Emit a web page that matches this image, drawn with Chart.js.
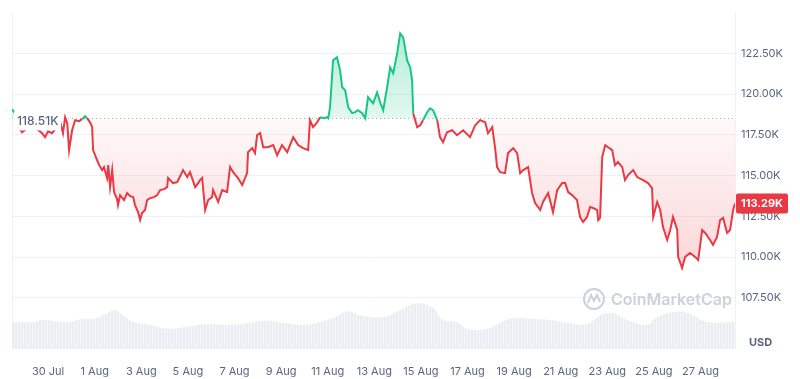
<!DOCTYPE html>
<html>
<head>
<meta charset="utf-8">
<title>BTC price chart</title>
<script src="https://cdn.jsdelivr.net/npm/chart.js@4.4.1/dist/chart.umd.min.js"></script>
<style>
  body { margin: 0; background: #fff; }
  #wrap { width: 800px; height: 379px; }
</style>
</head>
<body>
<div id="wrap"><canvas id="priceChart"></canvas></div>
<script>
// days since 30 Jul 00:00 and BTC price (USD)
const days = [-1.55,-1.42,-1.29,-1.12,-0.90,-0.69,-0.47,-0.26,-0.13,0.00,0.17,0.34,0.52,0.64,0.73,0.82,0.90,1.03,1.16,1.33,
  1.46,1.59,1.67,1.80,1.89,1.93,2.10,2.19,2.32,2.40,2.53,2.58,2.66,2.75,2.83,2.96,3.00,3.09,3.26,3.39,
  3.52,3.65,3.73,3.86,3.95,4.03,4.16,4.25,4.38,4.55,4.68,4.81,4.98,5.11,5.15,5.36,5.54,5.67,5.79,5.97,
  6.09,6.31,6.44,6.52,6.61,6.74,6.87,7.04,7.08,7.30,7.47,7.68,7.81,7.94,8.15,8.33,8.54,8.58,8.76,8.88,
  8.97,9.10,9.23,9.44,9.66,9.83,10.04,10.26,10.52,10.73,10.94,11.16,11.24,11.37,11.55,11.67,11.85,11.97,12.02,12.10,
  12.23,12.40,12.53,12.62,12.75,12.88,13.05,13.18,13.30,13.48,13.61,13.73,13.95,14.12,14.25,14.38,14.55,14.68,14.81,14.98,
  15.11,15.24,15.41,15.54,15.62,15.67,15.84,15.97,16.09,16.27,16.39,16.52,16.70,16.82,16.95,17.12,17.34,17.55,17.81,18.11,
  18.33,18.54,18.76,18.88,19.06,19.18,19.27,19.40,19.61,19.74,19.96,20.13,20.26,20.39,20.60,20.77,20.90,21.12,21.24,21.46,
  21.67,21.85,22.06,22.19,22.32,22.49,22.70,22.75,22.83,22.96,23.13,23.26,23.39,23.56,23.61,23.69,23.78,23.91,24.03,24.21,
  24.33,24.46,24.64,24.76,24.89,25.11,25.28,25.54,25.75,25.92,25.97,26.14,26.27,26.39,26.57,26.70,26.82,27.00,27.04,27.21,
  27.34,27.55,27.77,27.90,28.07,28.20,28.41,28.54,28.71,28.84,28.97,29.14,29.27,29.40,29.48];
const prices = [119070,118830,118030,117660,117910,118030,117850,117600,117360,117720,117600,117910,118270,117600,118580,118210,116560,117780,118400,118340,
  118460,118640,118520,118270,117970,116560,115950,115640,115340,115520,114850,115640,114290,115340,113990,113560,113190,113800,113500,113930,
  113740,113680,113190,112760,112270,112700,112890,113500,113620,113680,113800,114110,114170,114290,114850,114540,114600,114970,115340,114910,
  115210,114290,114540,114720,114850,112890,113500,113680,114110,113380,114110,113990,115520,115210,114850,114420,115150,116440,116680,116380,
  117480,117600,116740,116740,116870,116250,116870,116440,117360,116870,116680,116560,118400,117970,118270,118580,118520,118580,118520,119190,
  122070,122260,121460,120420,120230,119190,118830,118890,119010,118830,118520,119810,119440,120110,119500,119010,120420,121640,121280,122500,
  123720,123480,122070,121640,120850,118830,117970,118090,118400,118890,119130,119010,118400,117360,117050,117660,117780,117480,117780,117360,
  118090,118400,118270,117600,117970,116740,115520,115210,115150,116380,116680,116380,115150,115340,115520,113930,113310,112890,113380,113930,
  112760,114110,114540,114540,113990,113800,113500,113070,112460,112150,112460,113070,113010,112890,112270,112400,116130,116870,116740,116560,
  115640,115830,115520,114720,115030,115340,114910,114720,114540,114230,112460,113380,112890,111840,111050,111660,112460,111660,110010,109330,
  110010,110250,110010,109820,111660,111480,111050,110740,111230,112270,112400,111480,111660,112890,113290];

// 24h volume (billion USD) for the grey band at the bottom
const volDays = [-1.55,-0.64,-0.21,0.82,1.50,1.93,2.53,2.88,3.22,3.65,4.38,5.11,5.97,6.82,7.94,9.40,10.09,10.82,11.55,12.23,
  12.88,13.39,14.38,15.11,15.84,16.52,16.95,17.55,17.98,18.84,19.40,19.96,20.82,21.55,22.27,23.13,23.69,24.25,24.85,25.71,
  26.14,26.82,27.25,27.68,28.28,29.40,29.48];
const volumes = [40,40,43,40,44.5,44.5,53,58,50,40,36,30,33,37,36,42,39,36,39,46,
  56,50,47.5,58,68,61,43,40,30,30,39,46,44.5,43,39,37,50,53,43,36,
  47.5,55,55,50,40,40,40];

const tickDays = [0,2,4,6,8,10,12,14,16,18,20,22,24,26,28];
const tickLabels = ["30 Jul","1 Aug","3 Aug","5 Aug","7 Aug","9 Aug","11 Aug","13 Aug","15 Aug","17 Aug","19 Aug","21 Aug","23 Aug","25 Aug","27 Aug"];
const yTicks = [107500,110000,112500,115000,117500,120000,122500];
const openPrice = 118510;
const lastPrice = 113290;

const GREEN = "#16c784";
const RED = "#ea3943";
const GREY = "#58667e";

function fmtK(v) {
  return (v / 1000).toFixed(2) + "K";
}

const overlay = {
  id: "overlay",
  beforeDatasetsDraw(chart) {
    const { ctx, chartArea: a, scales: { y } } = chart;
    ctx.save();
    // left edge
    ctx.strokeStyle = "#eff2f5";
    ctx.lineWidth = 1;
    ctx.beginPath();
    ctx.moveTo(a.left + 0.5, a.top);
    ctx.lineTo(a.left + 0.5, a.bottom);
    ctx.stroke();
    // dotted open-price line
    const yb = Math.round(y.getPixelForValue(openPrice)) + 0.5;
    ctx.strokeStyle = "#a6b0c3";
    ctx.setLineDash([1, 3]);
    ctx.beginPath();
    ctx.moveTo(a.left, yb);
    ctx.lineTo(a.right, yb);
    ctx.stroke();
    ctx.restore();
  },
  afterDraw(chart) {
    const { ctx, chartArea: a, scales: { y } } = chart;
    ctx.save();
    // open price label
    const yb = y.getPixelForValue(openPrice);
    ctx.fillStyle = "#fff";
    ctx.fillRect(a.left + 2, yb - 7, 47, 19);
    ctx.font = "500 12px Inter";
    ctx.fillStyle = GREY;
    ctx.textBaseline = "middle";
    ctx.textAlign = "left";
    ctx.fillText(fmtK(openPrice), a.left + 5, yb + 3);

    // last price tag
    const yl = y.getPixelForValue(lastPrice);
    ctx.fillStyle = RED;
    ctx.beginPath();
    ctx.roundRect(a.right + 1, yl - 10, 52, 20, 2);
    ctx.fill();
    ctx.fillStyle = "#fff";
    ctx.font = "bold 11px Inter";
    ctx.fillText(fmtK(lastPrice), a.right + 6, yl + 0.5);

    // currency
    ctx.fillStyle = GREY;
    ctx.font = "bold 11px Inter";
    ctx.fillText("USD", a.right + 14, a.bottom - 6);

    // watermark
    const cx = a.right - 141, cy = a.bottom - 50;
    ctx.strokeStyle = "#cdd2da";
    ctx.lineWidth = 2;
    ctx.beginPath();
    ctx.arc(cx, cy, 10, 0, Math.PI * 2);
    ctx.stroke();
    ctx.beginPath();
    ctx.moveTo(cx - 6, cy + 4);
    ctx.lineTo(cx - 3, cy - 4);
    ctx.lineTo(cx, cy + 2);
    ctx.lineTo(cx + 3, cy - 4);
    ctx.lineTo(cx + 6, cy + 3);
    ctx.stroke();
    ctx.fillStyle = "#cdd2da";
    ctx.font = "600 16px Inter";
    ctx.fillText("CoinMarketCap", cx + 17, cy + 1);
    ctx.restore();
  }
};

const ctx = document.getElementById("priceChart");
const chart = new Chart(ctx, {
  type: "line",
  data: {
    datasets: [
      {
        label: "Price",
        data: days.map((d, i) => ({ x: d, y: prices[i] })),
        yAxisID: "y",
        borderColor: RED,
        borderWidth: 2,
        pointRadius: 0,
        tension: 0,
        order: 1,
        fill: { target: { value: openPrice }, above: "rgba(22,199,132,0.2)", below: "rgba(234,57,67,0.1)" },
        segment: {
          borderColor: c => ((c.p0.parsed.y + c.p1.parsed.y) / 2 >= openPrice ? GREEN : RED)
        }
      },
      {
        label: "Volume",
        data: volDays.map((d, i) => ({ x: d, y: volumes[i] })),
        yAxisID: "vol",
        borderWidth: 0,
        backgroundColor: "#eef1f5",
        pointRadius: 0,
        tension: 0.4,
        fill: "origin",
        order: 2
      }
    ]
  },
  options: {
    responsive: true,
    maintainAspectRatio: false,
    animation: false,
    layout: { padding: { left: 12, top: 12 } },
    plugins: { legend: { display: false }, tooltip: { enabled: false } },
    scales: {
      x: {
        type: "linear",
        min: -1.55,
        max: 29.48,
        afterBuildTicks: axis => { axis.ticks = tickDays.map(v => ({ value: v })); },
        afterFit: axis => { axis.height = 30; },
        grid: { display: false },
        border: { display: false },
        ticks: {
          autoSkip: false,
          maxRotation: 0,
          padding: 8,
          color: GREY,
          font: { family: "Inter", size: 11 },
          callback: v => tickLabels[tickDays.indexOf(v)]
        }
      },
      y: {
        position: "right",
        min: 104360,
        max: 125000,
        afterBuildTicks: axis => { axis.ticks = yTicks.map(v => ({ value: v })); },
        afterFit: axis => { axis.width = 65; },
        grid: { color: "#eff2f5", drawTicks: false },
        border: { display: true, color: "#eff2f5" },
        ticks: {
          padding: 6,
          color: GREY,
          font: { family: "Inter", size: 11 },
          callback: v => fmtK(v)
        }
      },
      vol: {
        display: false,
        min: 0,
        max: 500
      }
    }
  },
  plugins: [overlay]
});

// gradient fills need the laid-out scale
const ys = chart.scales.y;
const yOpen = ys.getPixelForValue(openPrice);
const greenFill = chart.ctx.createLinearGradient(0, ys.getPixelForValue(Math.max(...prices)), 0, yOpen);
greenFill.addColorStop(0, "rgba(22,199,132,0.32)");
greenFill.addColorStop(1, "rgba(22,199,132,0.12)");
const redFill = chart.ctx.createLinearGradient(0, yOpen, 0, ys.getPixelForValue(Math.min(...prices)));
redFill.addColorStop(0, "rgba(234,57,67,0.03)");
redFill.addColorStop(1, "rgba(234,57,67,0.2)");
chart.data.datasets[0].fill = { target: { value: openPrice }, above: greenFill, below: redFill };

// thin vertical stripes so the volume band reads as bars
const tile = document.createElement("canvas");
tile.width = 3;
tile.height = 1;
const tctx = tile.getContext("2d");
tctx.fillStyle = "#f5f6f9";
tctx.fillRect(0, 0, 3, 1);
tctx.fillStyle = "#eaedf2";
tctx.fillRect(0, 0, 2, 1);
chart.data.datasets[1].backgroundColor = chart.ctx.createPattern(tile, "repeat");
chart.update("none");
</script>
</body>
</html>
